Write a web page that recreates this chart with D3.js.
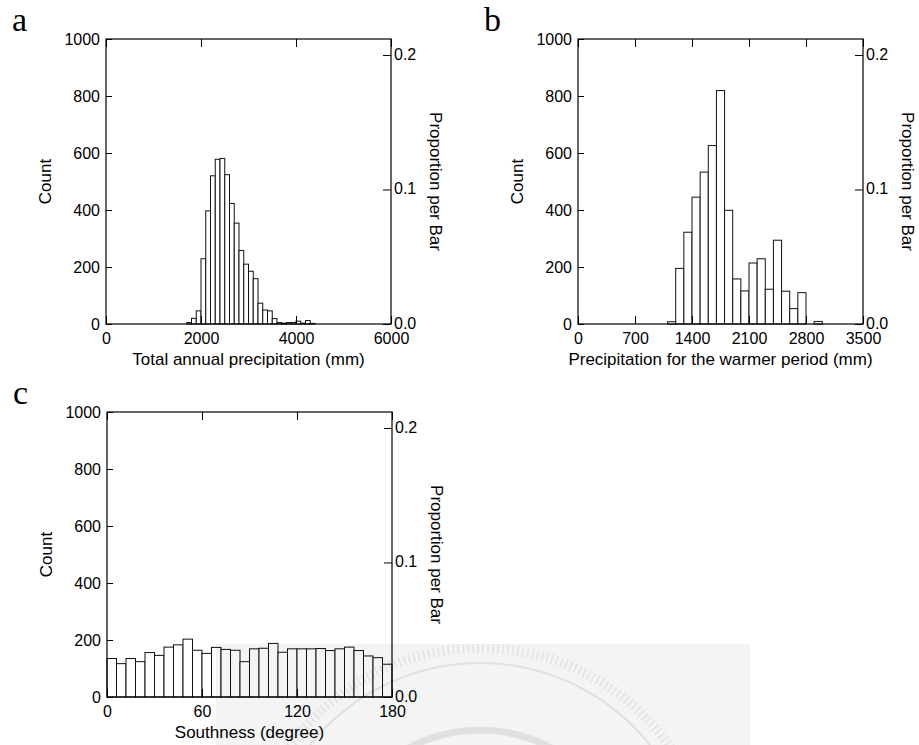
<!DOCTYPE html>
<html>
<head>
<meta charset="utf-8">
<script src="https://cdn.jsdelivr.net/npm/d3@7"></script>
<style>
  body { margin: 0; background: #fff; }
  svg { display: block; font-family: "Liberation Sans", Arial, sans-serif; }
</style>
</head>
<body>
<svg id="chart" width="919" height="745"></svg>
<script>
// ============================================
// Data (counts per bar)
// ============================================

const sampleSize = 4720;            // count that makes proportion 1.0
const countTicks = [0, 200, 400, 600, 800, 1000];
const propTicks = [0, 0.1, 0.2];

// a: total annual precipitation, 100 mm bars from 1700 mm
const annualStart = 1700;
const annualWidth = 100;
const annualCounts = [5, 20, 46, 229, 397, 520, 578, 581, 524, 423, 354, 258, 210, 185,
  159, 73, 49, 46, 19, 5, 3, 5, 5, 10, 3, 12, 2];
const annualTicks = [0, 2000, 4000, 6000];

// b: precipitation for the warmer period, 100 mm bars from 1100 mm
const warmStart = 1100;
const warmWidth = 100;
const warmCounts = [8, 195, 322, 445, 533, 626, 819, 399, 158, 116, 214, 229, 122, 294,
  115, 54, 110, 0, 9];
const warmTicks = [0, 700, 1400, 2100, 2800, 3500];

// c: southness, 6 degree bars from 0
const southStart = 0;
const southWidth = 6;
const southCounts = [135, 117, 135, 124, 156, 146, 175, 183, 203, 164, 153, 174, 167, 164,
  124, 169, 171, 188, 157, 169, 169, 169, 170, 163, 169, 175, 163, 144, 138, 115];
const southTicks = [0, 60, 120, 180];

const panels = [
  { label: 'a', left: 106, top: 39, start: annualStart, width: annualWidth, counts: annualCounts,
    ticks: annualTicks, title: 'Total annual precipitation (mm)' },
  { label: 'b', left: 578, top: 39, start: warmStart, width: warmWidth, counts: warmCounts,
    ticks: warmTicks, title: 'Precipitation for the warmer period (mm)' },
  { label: 'c', left: 107, top: 412, start: southStart, width: southWidth, counts: southCounts,
    ticks: southTicks, title: 'Southness (degree)' }
];

// ============================================
// Drawing
// ============================================

const W = 285, H = 285;
const svg = d3.select('#chart');

function styleAxis(axis, size) {
  axis.select('.domain').remove();
  axis.selectAll('line').attr('stroke', '#000');
  axis.selectAll('text')
    .attr('fill', '#000')
    .attr('font-size', size)
    .attr('font-family', '"Liberation Sans", Arial, sans-serif');
}

function drawPanel(p) {
  const g = svg.append('g').attr('transform', `translate(${p.left},${p.top})`);

  const x = d3.scaleLinear().domain(d3.extent(p.ticks)).range([0, W]);
  const y = d3.scaleLinear().domain([0, 1000]).range([H, 0]);
  const yProp = d3.scaleLinear().domain([0, 1000 / sampleSize]).range([H, 0]);

  // bars
  g.selectAll('rect.bar')
    .data(p.counts)
    .join('rect')
    .attr('class', 'bar')
    .attr('x', (d, i) => x(p.start + i * p.width))
    .attr('width', (d, i) => x(p.start + (i + 1) * p.width) - x(p.start + i * p.width))
    .attr('y', d => y(d))
    .attr('height', d => H - y(d))
    .attr('fill', '#fff')
    .attr('stroke', '#111')
    .attr('stroke-width', 1);

  // frame
  g.append('rect')
    .attr('width', W).attr('height', H)
    .attr('fill', 'none').attr('stroke', '#000').attr('stroke-width', 1.2);

  // axes (all ticks point inward)
  const left = g.append('g')
    .call(d3.axisLeft(y).tickValues(countTicks).tickSize(-6).tickSizeOuter(0)
      .tickPadding(6).tickFormat(d3.format('d')));
  styleAxis(left, 16);

  const right = g.append('g').attr('transform', `translate(${W},0)`)
    .call(d3.axisRight(yProp).tickValues(propTicks).tickSize(-8).tickSizeOuter(0)
      .tickPadding(3).tickFormat(d3.format('.1f')));
  styleAxis(right, 16);
  right.selectAll('text').attr('dy', '0.28em');

  const bottom = g.append('g').attr('transform', `translate(0,${H})`)
    .call(d3.axisBottom(x).tickValues(p.ticks).tickSize(-8).tickSizeOuter(0)
      .tickPadding(9).tickFormat(d3.format('d')));
  styleAxis(bottom, 16);

  const top = g.append('g')
    .call(d3.axisTop(x).tickValues(p.ticks).tickSize(-8).tickSizeOuter(0).tickFormat(''));
  styleAxis(top, 16);

  // titles
  g.append('text')
    .attr('x', W / 2).attr('y', H + 41)
    .attr('text-anchor', 'middle').attr('font-size', 17)
    .text(p.title);

  g.append('text')
    .attr('transform', `translate(-55,${H / 2}) rotate(-90)`)
    .attr('text-anchor', 'middle').attr('font-size', 17)
    .text('Count');

  g.append('text')
    .attr('transform', `translate(${W + 39},${H / 2}) rotate(90)`)
    .attr('text-anchor', 'middle').attr('font-size', 17)
    .text('Proportion per Bar');

  // panel letter
  svg.append('text')
    .attr('x', p.left - 94).attr('y', p.top - 8)
    .attr('font-family', '"Liberation Serif", "Times New Roman", serif')
    .attr('font-size', 34)
    .text(p.label);
}

panels.forEach(drawPanel);

// faint seal watermark in the lower right
const wm = svg.append('g');
wm.append('clipPath').attr('id', 'wmClip')
  .append('rect').attr('x', 216).attr('y', 644).attr('width', 534).attr('height', 101);
wm.append('rect')
  .attr('x', 216).attr('y', 644).attr('width', 534).attr('height', 101)
  .attr('fill', '#000').attr('opacity', 0.045);
const seal = wm.append('g').attr('clip-path', 'url(#wmClip)');
[{ r: 232, w: 10, dash: '2 3', o: 0.06 }, { r: 217, w: 2, dash: null, o: 0.08 },
  { r: 150, w: 7, dash: null, o: 0.08 }]
  .forEach(c => {
    seal.append('circle')
      .attr('cx', 480).attr('cy', 880).attr('r', c.r)
      .attr('fill', 'none').attr('stroke', '#000').attr('opacity', c.o)
      .attr('stroke-width', c.w).attr('stroke-dasharray', c.dash);
  });
</script>
</body>
</html>
